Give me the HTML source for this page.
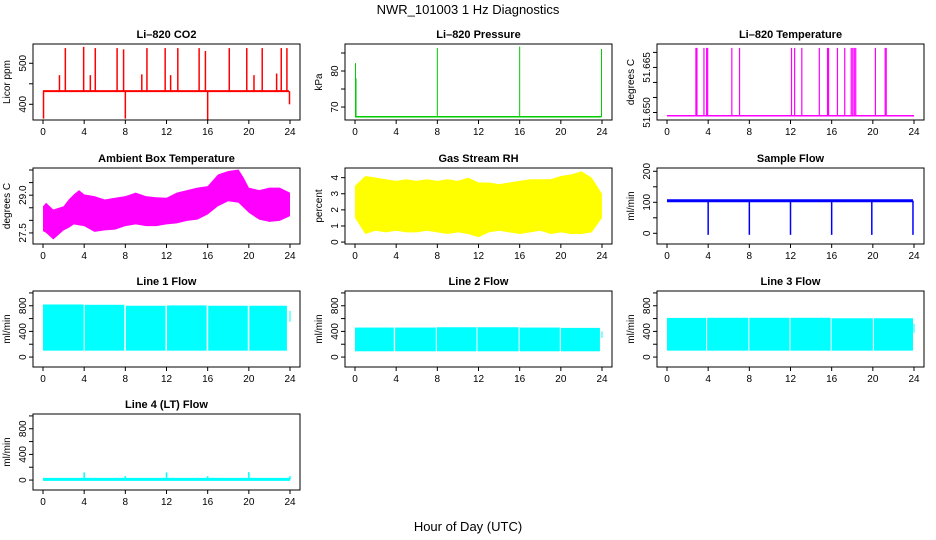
<!DOCTYPE html>
<html><head><meta charset="utf-8"><style>
body{margin:0;background:#fff}
svg{display:block;font-family:"Liberation Sans",Arial,sans-serif}
</style></head><body>
<svg id="c" width="936" height="540" viewBox="0 0 936 540">
<rect width="936" height="540" fill="#fff"/>
<text x="468" y="14" font-size="13" text-anchor="middle">NWR_101003  1 Hz Diagnostics</text>
<text x="468" y="531" font-size="13" text-anchor="middle">Hour of Day (UTC)</text>
</svg>
<script>
// ---- data ----
const xTicks = [0,4,8,12,16,20,24];
const co2Base = 432;
const co2SpikeHours = [0.05,1.6,2.17,3.95,4.6,5.08,7.2,7.83,8.0,9.6,10.1,11.87,12.4,13.1,15.17,15.78,16.0,18.1,19.8,20.5,21.3,22.7,23.15,23.7,23.95];
const co2SpikeVals  = [365,471,537,540,471,537,537,534,365,473,537,537,471,537,537,530,362,537,537,471,537,475,537,537,400];
const presBase = 67.3;
const presSpikeHours = [0.05,0.1,8.0,16.0,23.95];
const presSpikeVals = [82.2,78,86.4,86.8,86.1];
const tempBase = 51.6489;
const tempSpikeHours = [2.81,2.91,3.59,3.85,3.95,6.3,7.05,12.1,12.4,13.1,14.8,15.6,15.7,16.56,17.27,17.9,18.05,18.2,18.34,20.25,21.2,21.3];
const tempSpikeVal = 51.6715;
const ambHours = [0,0.3,1,2,2.5,3,3.5,4,5,6,7,8,9,10,11,12,13,14,15,16,17,18,19,19.5,20,21,22,23,24];
const ambHi = [28.56,28.7,28.43,28.56,28.83,29.03,29.2,29.03,28.96,28.83,28.9,28.96,29.1,28.96,28.92,28.9,29.1,29.2,29.3,29.36,29.82,29.96,30.02,29.7,29.3,29.2,29.3,29.3,29.1];
const ambLo = [27.57,27.5,27.24,27.6,27.7,27.84,27.8,27.77,27.54,27.6,27.63,27.77,27.84,27.77,27.77,27.84,27.88,27.98,28.03,28.23,28.56,28.76,28.7,28.5,28.3,28.03,27.94,27.98,28.17];
const rhHours = [0,1,2,3,4,5,6,7,8,9,10,11,12,13,14,15,16,17,18,19,20,21,22,23,24];
const rhHi = [3.5,4.1,4.0,3.9,3.8,3.9,3.8,3.9,3.8,3.9,3.8,4.0,3.7,3.7,3.6,3.7,3.8,3.9,3.9,3.9,4.1,4.2,4.4,4.0,3.0];
const rhLo = [1.5,0.5,0.7,0.6,0.7,0.6,0.6,0.7,0.6,0.5,0.6,0.5,0.3,0.6,0.7,0.6,0.5,0.6,0.7,0.5,0.6,0.5,0.5,0.6,1.5];
const sampleBase = 105;
const sampleDipHours = [4.0,8.0,12.0,16.0,19.9,23.9];
const sampleDipVal = -5;
const l1Start = [0,4.05,8.05,12.05,16.05,20.05,23.95];
const l1End   = [3.95,7.9,11.9,15.9,19.9,23.7,24.0];
const l1Lo    = [100,100,100,100,100,100,550];
const l1Hi    = [820,815,800,805,800,800,720];
const l2Start = [0,3.9,7.95,11.9,16.0,20.0,23.95];
const l2End   = [3.77,7.85,11.8,15.9,19.9,23.8,24.0];
const l2Lo    = [90,90,90,90,90,90,300];
const l2Hi    = [460,460,465,465,460,455,400];
const l3Start = [0,3.9,8.0,12.0,16.0,20.1,23.95];
const l3End   = [3.8,7.9,11.9,15.9,20.0,23.9,24.0];
const l3Lo    = [100,100,100,100,100,100,380];
const l3Hi    = [610,612,612,612,605,605,520];
const l4Base = 10;
const l4SpikeHours = [4.0,8.0,12.0,16.0,20.0,24.0];
const l4SpikeVals = [120,60,120,60,125,60];

// ---- layout ----
const svg = document.getElementById('c');
const NS = 'http://www.w3.org/2000/svg';
const colL = [33,345,657], rowT = [44,168,291,414], W = 267, H = 76;
function mk(tag, attrs, parent){ const e=document.createElementNS(NS,tag); for(const k in attrs) e.setAttribute(k,attrs[k]); (parent||svg).appendChild(e); return e; }

function panel(name, col, row, title, ylab, dom, ticks, labels, dec){
  const g = mk('g',{});
  
  
  const L=colL[col], T=rowT[row];
  const xs = h => L+10+h/24*247;
  const ys = v => T+H-(v-dom[0])/(dom[1]-dom[0])*H;
  const t = mk('text',{x:L+W/2,y:T-6,'font-size':11,'font-weight':'bold','text-anchor':'middle'},g);
  t.textContent = title;
  
  
  const yl = mk('text',{x:0,y:0,'font-size':10,'text-anchor':'middle',transform:`translate(${L-23},${T+H/2}) rotate(-90)`},g);
  yl.textContent = ylab;
  
  
  ticks.forEach(v=>{
    const y=ys(v);
    mk('line',{x1:L-4,x2:L,y1:y,y2:y,stroke:'#000','stroke-width':1},g);
    if(labels.includes(v)){
      const tl=mk('text',{x:0,y:0,'font-size':10,'text-anchor':'middle',transform:`translate(${L-7},${y}) rotate(-90)`},g);
      tl.textContent = v.toFixed(dec||0);
      
      
    }
  });
  xTicks.forEach(h=>{
    const x=xs(h);
    mk('line',{x1:x,x2:x,y1:T+H,y2:T+H+4,stroke:'#000'},g);
    const tl=mk('text',{x:x,y:T+H+15,'font-size':10,'text-anchor':'middle'},g);
    tl.textContent=h;
    
    
  });
  const data = mk('g',{},g);
  
  
  const box = mk('rect',{x:L,y:T,width:W,height:H,fill:'none',stroke:'#000','stroke-width':1},g);
  
  
  return {xs,ys,g:data};
}
function vline(p,h,v0,v1,color,w){ mk('line',{x1:p.xs(h),x2:p.xs(h),y1:p.ys(v0),y2:p.ys(v1),stroke:color,'stroke-width':w||1.2},p.g); }
function hline(p,h0,h1,v,color,w){ mk('line',{x1:p.xs(h0),x2:p.xs(h1),y1:p.ys(v),y2:p.ys(v),stroke:color,'stroke-width':w||2},p.g); }
function band(p,hs,lo,hi,color){
  let pts = hs.map((h,i)=>p.xs(h)+','+p.ys(hi[i]));
  for(let i=hs.length-1;i>=0;i--) pts.push(p.xs(hs[i])+','+p.ys(lo[i]));
  mk('polygon',{points:pts.join(' '),fill:color},p.g);
}
function segs(p,s,e,lo,hi,color){
  s.forEach((h,i)=>{ mk('rect',{x:p.xs(h),y:p.ys(hi[i]),width:Math.max(1,p.xs(e[i])-p.xs(h)),height:p.ys(lo[i])-p.ys(hi[i]),fill:color},p.g); });
}

// CO2
let p = panel('co2',0,0,'Li\u2013820 CO2','Licor ppm',[361.7,547],[400,450,500],[400,500],0);
hline(p,0,23.9,co2Base,'#f00',2);
co2SpikeHours.forEach((h,i)=>vline(p,h,co2Base,co2SpikeVals[i],'#f00',1.5));
// Pressure
p = panel('pressure',1,0,'Li\u2013820 Pressure','kPa',[66.4,87.5],[70,75,80,85],[70,80],0);
hline(p,0,23.95,presBase,'#0c0',1.5);
presSpikeHours.forEach((h,i)=>vline(p,h,presBase,presSpikeVals[i],'#0c0',1));
// Temperature
p = panel('temperature',2,0,'Li\u2013820 Temperature','degrees C',[51.6475,51.6728],[51.650,51.655,51.660,51.665,51.670],[51.650,51.665],3);
hline(p,0,24,tempBase,'#f0f',1.5);
tempSpikeHours.forEach(h=>vline(p,h,tempBase,tempSpikeVal,'#f0f',1.2));
// Ambient
p = panel('ambient-temp',0,1,'Ambient Box Temperature','degrees C',[27.06,30.08],[27.5,28,28.5,29,29.5,30],[27.5,29],1);
band(p,ambHours,ambLo,ambHi,'#f0f');
// RH
p = panel('gas-rh',1,1,'Gas Stream RH','percent',[-0.12,4.6],[0,1,2,3,4],[0,1,2,3,4],0);
band(p,rhHours,rhLo,rhHi,'#ff0');
// Sample flow
p = panel('sample-flow',2,1,'Sample Flow','ml/min',[-34.5,210.6],[0,50,100,150,200],[0,100,200],0);
hline(p,0,23.9,sampleBase,'#00f',3);
sampleDipHours.forEach(h=>vline(p,h,sampleBase,sampleDipVal,'#00f',1.5));
// Line flows
const fd=[-155,1030], ft=[0,200,400,600,800,1000], fl=[0,400,800];
p = panel('line1-flow',0,2,'Line 1 Flow','ml/min',fd,ft,fl,0); segs(p,l1Start,l1End,l1Lo,l1Hi,'#0ff');
p = panel('line2-flow',1,2,'Line 2 Flow','ml/min',fd,ft,fl,0); segs(p,l2Start,l2End,l2Lo,l2Hi,'#0ff');
p = panel('line3-flow',2,2,'Line 3 Flow','ml/min',fd,ft,fl,0); segs(p,l3Start,l3End,l3Lo,l3Hi,'#0ff');
p = panel('line4-flow',0,3,'Line 4 (LT) Flow','ml/min',fd,ft,fl,0);
hline(p,0,24,l4Base,'#0ff',3);
l4SpikeHours.forEach((h,i)=>vline(p,h,l4Base,l4SpikeVals[i],'#0ff',1.5));
</script>
</body></html>
